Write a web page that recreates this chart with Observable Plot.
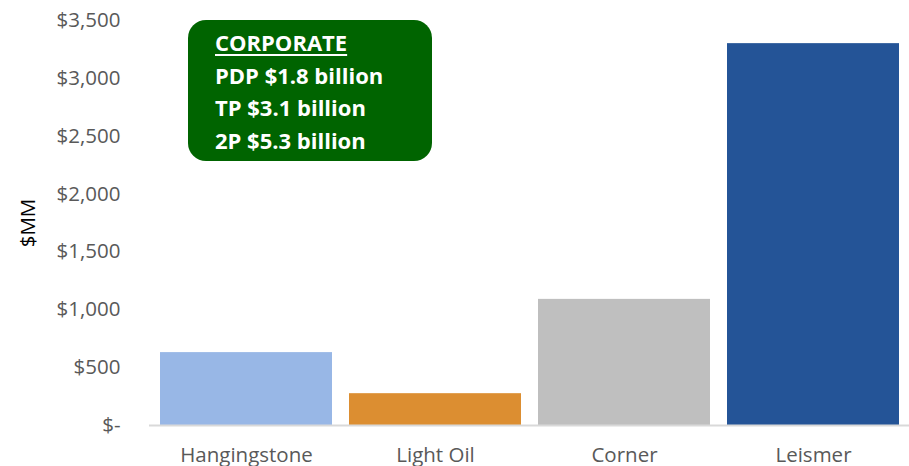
<!DOCTYPE html>
<html>
<head>
<meta charset="utf-8">
<script src="https://cdn.jsdelivr.net/npm/d3@7"></script>
<script src="https://cdn.jsdelivr.net/npm/@observablehq/plot@0.6"></script>
<style>
  html, body { margin: 0; padding: 0; background: #fff; }
  #wrap { position: relative; width: 909px; height: 466px; overflow: hidden; }
  #note {
    position: absolute; left: 188px; top: 20px; width: 244px; height: 141px;
    box-sizing: border-box; background: #006400; border-radius: 18px;
    color: #fff; font-family: "Open Sans", sans-serif; font-weight: 700;
    font-size: 22px; line-height: 32.5px; padding: 6px 0 0 27px;
  }
  #note .h { text-decoration: underline; text-underline-offset: 3px; text-decoration-thickness: 2px; }
</style>
</head>
<body>
<div id="wrap">
  <div id="chart"></div>
  <div id="note">
    <div class="h">CORPORATE</div>
    <div>PDP $1.8 billion</div>
    <div>TP $3.1 billion</div>
    <div>2P $5.3 billion</div>
  </div>
</div>
<script>
const categories = ["Hangingstone", "Light Oil", "Corner", "Leismer"];
const values = [630, 275, 1090, 3300];
const colors = ["#98B7E6", "#DC8E31", "#BFBFBF", "#245497"];
const yTicks = [0, 500, 1000, 1500, 2000, 2500, 3000, 3500];

const data = categories.map((c, i) => ({category: c, value: values[i]}));

const chart = Plot.plot({
  width: 909,
  height: 466,
  marginLeft: 149,
  marginRight: 0,
  marginTop: 20,
  marginBottom: 41,
  style: {fontFamily: "Open Sans, sans-serif", fontSize: "20.5px", color: "#595959", background: "#fff"},
  x: {domain: categories, paddingInner: 0.09, paddingOuter: 0.047, label: null},
  y: {domain: [0, 3500], label: null},
  color: {domain: categories, range: colors},
  marks: [
    Plot.barY(data, {x: "category", y: "value", fill: "category"}),
    Plot.ruleY([0], {stroke: "#D9D9D9", strokeWidth: 2}),
    Plot.axisX({tickSize: 0, tickPadding: 22, fill: "#595959", label: null}),
    Plot.axisY({ticks: yTicks, tickSize: 0, tickPadding: 29, fill: "#595959", label: null,
      tickFormat: d => d === 0 ? "$-" : "$" + d3.format(",")(d)}),
    Plot.text(["$MM"], {frameAnchor: "left", textAnchor: "middle", dx: -121, dy: 0, rotate: -90, fill: "#000", fontSize: 20.5})
  ]
});
document.getElementById("chart").appendChild(chart);
</script>
</body>
</html>
